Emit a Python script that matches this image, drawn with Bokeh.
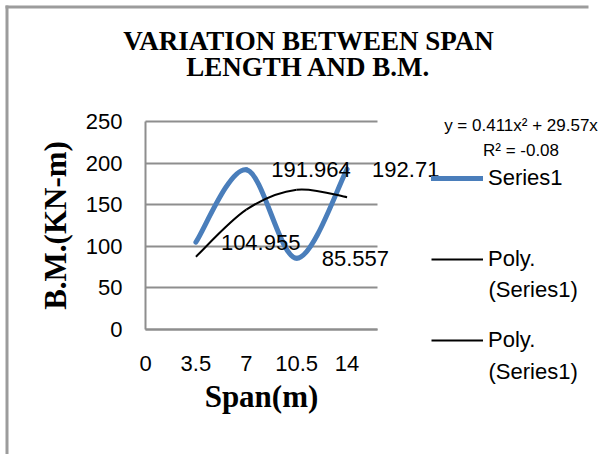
from bokeh.plotting import figure
from bokeh.models import (Range1d, FixedTicker, Label, LabelSet, ColumnDataSource,
                          Legend, LegendItem, BoxAnnotation)
from bokeh.core.properties import value
from bokeh.embed import file_html
from bokeh.resources import INLINE

# ---------------- data ----------------
title_lines = ["VARIATION BETWEEN SPAN", "LENGTH AND B.M."]
x_title = "Span(m)"
y_title = "B.M.(KN-m)"
span = [3.5, 7, 10.5, 14]                      # Span (m)
bm = [104.955, 191.964, 85.557, 192.71]        # B.M. (KN-m), Series1
trend = [87.5, 144, 168, 159]                  # polynomial trendline as drawn
x_ticks = [0, 3.5, 7, 10.5, 14]
x_tick_labels = ["0", "3.5", "7", "10.5", "14"]
y_ticks = [0, 50, 100, 150, 200, 250]
x_end = 16.1                                   # right end of the plot area
trend_a, trend_b, trend_r2 = 0.411, 29.57, -0.08
series_name = "Series1"
trend_name = "Poly."
trend_sub = "(Series1)"

# ---------------- layout (canvas pixels) ----------------
W, H = 601, 454
AX0, AY0 = 145, 329            # canvas position of the data origin
SX = 50.4 / 3.5                # px per metre
SY = 208 / 250                 # px per KN-m
BLUE = "#4A7EBB"
GRAY = "#8E8E8E"
SANS = "Liberation Sans"
SERIF = "Liberation Serif"


def dx(px):
    return (px - AX0) / SX


def dy(py):
    return (AY0 - py) / SY


def smooth_segments(xs, ys):
    n = len(xs)
    d = dict(x0=[], y0=[], x1=[], y1=[], cx0=[], cy0=[], cx1=[], cy1=[])
    for i in range(n - 1):
        a = max(i - 1, 0)
        b = min(i + 2, n - 1)
        d["x0"].append(xs[i]); d["y0"].append(ys[i])
        d["x1"].append(xs[i + 1]); d["y1"].append(ys[i + 1])
        d["cx0"].append(xs[i] + (xs[i + 1] - xs[a]) / 6)
        d["cy0"].append(ys[i] + (ys[i + 1] - ys[a]) / 6)
        d["cx1"].append(xs[i + 1] - (xs[b] - xs[i]) / 6)
        d["cy1"].append(ys[i + 1] - (ys[b] - ys[i]) / 6)
    return d


p = figure(width=W, height=H, output_backend="svg", toolbar_location=None,
           x_range=Range1d(dx(0), dx(W)), y_range=Range1d(dy(H), dy(0)),
           min_border=0, min_border_left=0, min_border_right=0,
           min_border_top=0, min_border_bottom=0)
p.outline_line_color = None
p.background_fill_color = "white"
p.border_fill_color = "white"

# grid
p.xgrid.visible = False
p.ygrid.ticker = FixedTicker(ticks=y_ticks)
p.ygrid.grid_line_color = GRAY
p.ygrid.grid_line_width = 2
p.ygrid.cross_bounds = (0, x_end)

# axes, pinned at the data origin
for ax in (p.xaxis, p.yaxis):
    ax.fixed_location = 0
    ax.major_tick_in = 0
    ax.major_tick_out = 0
    ax.minor_tick_in = 0
    ax.minor_tick_out = 0
    ax.axis_line_color = GRAY
    ax.axis_line_width = 2
    ax.major_label_text_font = SANS
    ax.major_label_text_font_size = "22px"
    ax.major_label_text_color = "black"
    ax.axis_label_text_font = SERIF
    ax.axis_label_text_font_style = "bold"
    ax.axis_label_text_font_size = "31px"
    ax.axis_label_text_color = "black"

p.xaxis.bounds = (0, x_end)
p.xaxis.ticker = FixedTicker(ticks=x_ticks)
p.xaxis.major_label_overrides = {t: s for t, s in zip(x_ticks, x_tick_labels)}
p.xaxis.major_label_standoff = 26
p.xaxis.axis_label = x_title
p.xaxis.axis_label_standoff = 5

p.yaxis.bounds = (y_ticks[0], y_ticks[-1])
p.yaxis.ticker = FixedTicker(ticks=y_ticks)
p.yaxis.major_label_standoff = 23
p.yaxis.axis_label = y_title
p.yaxis.axis_label_standoff = 10

# series and trendline (smoothed)
r_series = p.bezier(source=ColumnDataSource(smooth_segments(span, bm)),
                    x0="x0", y0="y0", x1="x1", y1="y1",
                    cx0="cx0", cy0="cy0", cx1="cx1", cy1="cy1",
                    line_color=BLUE, line_width=5, line_cap="round")
r_trend = p.bezier(source=ColumnDataSource(smooth_segments(span, trend)),
                   x0="x0", y0="y0", x1="x1", y1="y1",
                   cx0="cx0", cy0="cy0", cx1="cx1", cy1="cy1",
                   line_color="black", line_width=2)

# data labels
lab_src = ColumnDataSource(dict(x=span, y=bm, t=[f"{v:g}" for v in bm]))
p.add_layout(LabelSet(x="x", y="y", text="t", source=lab_src, x_offset=25, y_offset=0,
                      text_align="left", text_baseline="middle",
                      text_font=value(SANS), text_font_size=value("22px"),
                      text_color="black"))

# legend
legend = Legend(items=[LegendItem(label=series_name, renderers=[r_series], index=0),
                       LegendItem(label=trend_name, renderers=[r_trend], index=0),
                       LegendItem(label=trend_name, renderers=[r_trend], index=0)],
                location=(431, 101), padding=0, margin=0,
                glyph_width=52, glyph_height=26, label_height=26,
                label_standoff=5, spacing=55,
                label_text_font=SANS, label_text_font_size="22px",
                label_text_color="black",
                border_line_alpha=0, background_fill_alpha=0)
p.add_layout(legend)
for yy in (289, 371):
    p.add_layout(Label(x=dx(488), y=dy(yy), text=trend_sub, text_align="left",
                       text_baseline="middle", text_font=SANS, text_font_size="22px",
                       text_color="black"))

# title
for txt, yy in zip(title_lines, (40, 66)):
    p.add_layout(Label(x=dx(308), y=dy(yy), text=txt, text_align="center",
                       text_baseline="middle", text_font=SERIF, text_font_style="bold",
                       text_font_size="27px", text_color="black"))

# trendline equation
p.add_layout(Label(x=dx(520.5), y=dy(125), text=f"y = {trend_a}x\u00b2 + {trend_b}x",
                   text_align="center", text_baseline="middle",
                   text_font=SANS, text_font_size="17px", text_color="black"))
p.add_layout(Label(x=dx(520.5), y=dy(150), text=f"R\u00b2 = {trend_r2}",
                   text_align="center", text_baseline="middle",
                   text_font=SANS, text_font_size="17px", text_color="black"))

# chart border (left and top edges of the chart frame)
p.add_layout(BoxAnnotation(left=dx(5), right=dx(8), top=dy(5), bottom=dy(H + 40),
                           fill_color="#9C9C9C", fill_alpha=1, line_alpha=0))
p.add_layout(BoxAnnotation(left=dx(5), right=dx(588), top=dy(5), bottom=dy(8),
                           fill_color="#9C9C9C", fill_alpha=1, line_alpha=0))

open("out.html", "w").write(file_html(p, INLINE))
